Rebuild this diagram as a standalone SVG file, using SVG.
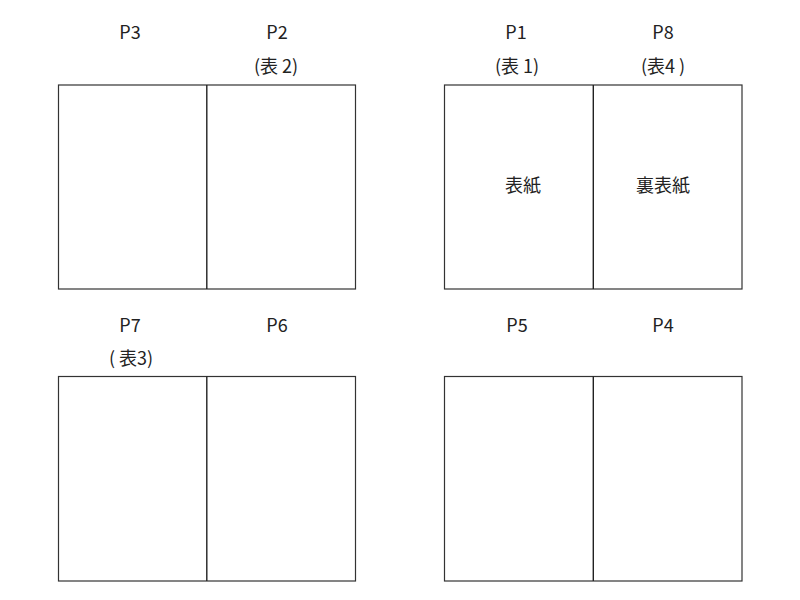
<svg xmlns="http://www.w3.org/2000/svg" width="800" height="600" viewBox="0 0 800 600">
<style>
.pg{fill:#fff;stroke:#333;stroke-width:1.2}
.ln{stroke:#222;stroke-width:1.4}
text{font-family:"Noto Sans CJK JP","Noto Sans",sans-serif;font-size:18px;fill:#222;text-anchor:middle}
</style>
<rect width="800" height="600" fill="#fff"/>
<g id="spread-p3-p2">
<rect class="pg" x="58.5" y="85" width="297" height="204"/>
<line class="ln" x1="206.8" y1="85" x2="206.8" y2="289"/>
<text x="130" y="39">P3</text>
<text x="277" y="39">P2</text>
<text x="276" y="73">(表 2)</text>
</g>
<g id="spread-p1-p8">
<rect class="pg" x="444.5" y="85" width="297.5" height="204"/>
<line class="ln" x1="593.3" y1="85" x2="593.3" y2="289"/>
<text x="516" y="39">P1</text>
<text x="663" y="39">P8</text>
<text x="517" y="73">(表 1)</text>
<text x="663" y="73">(表4 )</text>
<text x="523" y="192">表紙</text>
<text x="663" y="192">裏表紙</text>
</g>
<g id="spread-p7-p6">
<rect class="pg" x="58.5" y="376.5" width="297" height="204.5"/>
<line class="ln" x1="206.8" y1="376.5" x2="206.8" y2="581"/>
<text x="130" y="332">P7</text>
<text x="277" y="332">P6</text>
<text x="131" y="365">( 表3)</text>
</g>
<g id="spread-p5-p4">
<rect class="pg" x="444.5" y="376.5" width="297.5" height="204.5"/>
<line class="ln" x1="593.3" y1="376.5" x2="593.3" y2="581"/>
<text x="517" y="332">P5</text>
<text x="663" y="332">P4</text>
</g>
<g id="connectors"/>
</svg>
